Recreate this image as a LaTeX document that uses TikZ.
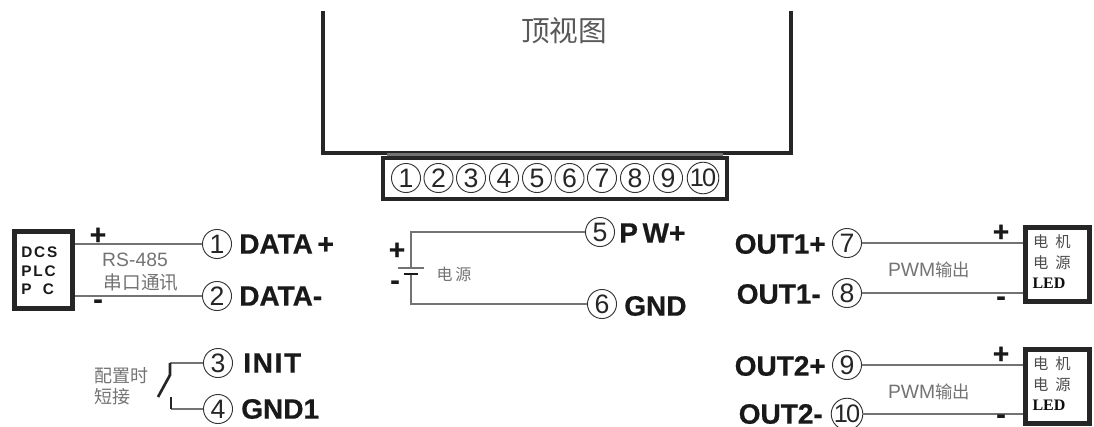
\documentclass[tikz,border=0pt]{standalone}
\usepackage{fontspec}
\setmainfont{Liberation Sans}
\newfontfamily\cjk{Noto Sans CJK SC}
\newfontfamily\serifb{Liberation Serif}
\newfontfamily\heavy[FakeBold=0.6]{Liberation Sans Bold}
\tikzset{
  px/.style={x=0.75pt,y=-0.75pt},
  term/.style={circle,draw=black!80,line width=0.7pt,minimum size=21.8pt,inner sep=0pt,font=\fontsize{20}{20}\selectfont,text=black!85},
  termn/.style={term,font=\fontsize{19}{19}\selectfont},
  wire/.style={draw=black!55,line width=0.8pt},
  thick box/.style={draw=black!85,line width=3.6pt},
  shell/.style={draw=black!85,line width=2.5pt},
  lab/.style={font=\heavy\fontsize{21}{21}\selectfont,text=black!90,inner sep=0pt,anchor=west},
  sign/.style={font=\heavy\fontsize{21}{21}\selectfont,text=black!90,inner sep=0pt},
  gray cn/.style={font=\cjk\fontsize{10}{12}\selectfont,text=black!55,inner sep=0pt,align=center},
  gray tx/.style={font=\fontsize{14.5}{14.5}\selectfont,text=black!55,inner sep=0pt},
  dev/.style={font=\bfseries\fontsize{11.5}{14}\selectfont\addfontfeature{LetterSpace=12},text=black!90,inner sep=0pt,align=left},
  devr/.style={font=\cjk\fontsize{11.5}{15.5}\selectfont,text=black!70,inner sep=0pt,align=center},
  led/.style={font=\serifb\bfseries\fontsize{12}{12}\selectfont,text=black!95,inner sep=0pt},
}
\begin{document}
\begin{tikzpicture}[px]
\useasboundingbox (0,0) rectangle (1094,426);
% module outline
\coordinate (ua) at (323,11); \coordinate (ub) at (323,153);
\coordinate (uc) at (791,153); \coordinate (ud) at (791,11);
\draw[shell,line join=miter] (ua) -- (ub) -- (uc) -- (ud);
\node[font=\cjk\fontsize{21.5}{21.5}\selectfont,text=black!65,inner sep=0pt] (top) at (564,31) {顶视图};
% terminal block
\fill[black!55] (387,153) rectangle (723,158);
\draw[shell] (383,158) rectangle (727,199);
\foreach \n/\x in {1/406,2/438.5,3/471,4/504,5/537,6/569.5,7/602,8/635,9/668}
  \node[term] (t\n) at (\x,178) {\n};
\node[termn] (t10) at (703,178) {1\kern-1.5pt 0};
% DCS box
\node[thick box,minimum width=44pt,minimum height=58pt,inner sep=0pt] (dcs) at (43.5,270) {};
\node[dev,anchor=west] (dcstxt) at (21,271) {DCS\\PLC\\P\hspace{0.75em}C};
% left terminals
\node[term] (c1) at (217,244) {1};
\node[term] (c2) at (217,296) {2};
\node[term] (c3) at (218,363) {3};
\node[term] (c4) at (218,409) {4};
\node[lab] (l1) at (239,244) {DATA\,+};
\node[lab] (l2) at (239,296) {DATA-};
\node[lab,font=\heavy\fontsize{21}{21}\selectfont\addfontfeature{LetterSpace=6}] (l3) at (243,363) {INIT};
\node[lab] (l4) at (241,409) {GND1};
\coordinate (d1) at (dcs.east |- c1); \coordinate (d2) at (dcs.east |- c2);
\draw[wire] (d1) -- (c1); \draw[wire] (d2) -- (c2);
\node[sign] (p1) at (98,236) {+};
\node[sign] (m1) at (98,304) {-};
\node[gray tx] (rs) at (135,260) {RS-485};
\node[gray cn,font=\cjk\fontsize{14}{14}\selectfont] (rsc) at (141,283) {串口通讯};
% switch
\coordinate (sa) at (170,363); \coordinate (sb) at (170,375); \coordinate (sc) at (158,397);
\coordinate (sd) at (171,397); \coordinate (se) at (171,409);
\draw[wire] (sa) -- (c3); \draw[wire] (se) -- (c4);
\draw[draw=black!85,line width=2pt] (sa) -- (sb) -- (sc);
\draw[draw=black!85,line width=2pt] (sd) -- (se);
\node[gray cn,font=\cjk\fontsize{13.5}{15.5}\selectfont,anchor=west,align=left] (cfg) at (94,386) {配置时\\短接};
% power
\node[term] (c5) at (600,232) {5};
\node[term] (c6) at (602,304) {6};
\node[lab] (l5) at (619,233) {P\,W+};
\node[lab] (l6) at (624,306) {GND};
\coordinate (bt) at (411,268); \coordinate (bb) at (411,274);
\coordinate (pa) at (398,268); \coordinate (pb) at (424,268);
\coordinate (qa) at (404,274); \coordinate (qb) at (418,274);
\draw[wire] (bt) |- (c5);
\draw[wire] (bb) |- (c6);
\draw[wire] (pa) -- (pb);
\draw[draw=black!90,line width=2.2pt] (qa) -- (qb);
\node[sign] (p2) at (397,251) {+};
\node[sign] (m2) at (395,285) {-};
\node[gray cn,font=\cjk\fontsize{12}{12}\selectfont] (pwr) at (454,274) {电\,源};
% right boxes
\node[thick box,minimum width=47.5pt,minimum height=55pt,inner sep=0pt] (b1) at (1057.5,264.5) {};
\node[thick box,minimum width=47.5pt,minimum height=55pt,inner sep=0pt] (b2) at (1057.5,386.5) {};
\node[devr] (b1a) at (1052,252) {电\hspace{0.45em}机\\电\hspace{0.45em}源};
\node[led] (b1b) at (1049,283) {LED};
\node[devr] (b2a) at (1052,374) {电\hspace{0.45em}机\\电\hspace{0.45em}源};
\node[led] (b2b) at (1049,405) {LED};
% right terminals
\node[term] (c7) at (847,243) {7};
\node[term] (c8) at (847,293) {8};
\node[term] (c9) at (847,365) {9};
\node[termn] (c10) at (847,414) {1\kern-1.5pt 0};
\coordinate (e1) at (b1.west |- c7); \coordinate (e2) at (b1.west |- c8);
\coordinate (e3) at (b2.west |- c9); \coordinate (e4) at (b2.west |- c10);
\draw[wire] (c7) -- (e1); \draw[wire] (c8) -- (e2);
\draw[wire] (c9) -- (e3); \draw[wire] (c10) -- (e4);
\node[lab,anchor=east] (l7) at (826,244) {OUT1+};
\node[lab,anchor=east] (l8) at (821,294) {OUT1-};
\node[lab,anchor=east] (l9) at (826,366) {OUT2+};
\node[lab,anchor=east] (l10) at (823,414) {OUT2-};
\node[sign] (p7) at (1001,233) {+};
\node[sign] (m8) at (1001,301) {-};
\node[sign] (p9) at (1001,355) {+};
\node[sign] (m10) at (1001,419) {-};
\node[gray tx] (pw1) at (929,270) {PWM{\cjk\fontsize{13}{13}\selectfont 输出}};
\node[gray tx] (pw2) at (929,392) {PWM{\cjk\fontsize{13}{13}\selectfont 输出}};
\end{tikzpicture}
\end{document}
